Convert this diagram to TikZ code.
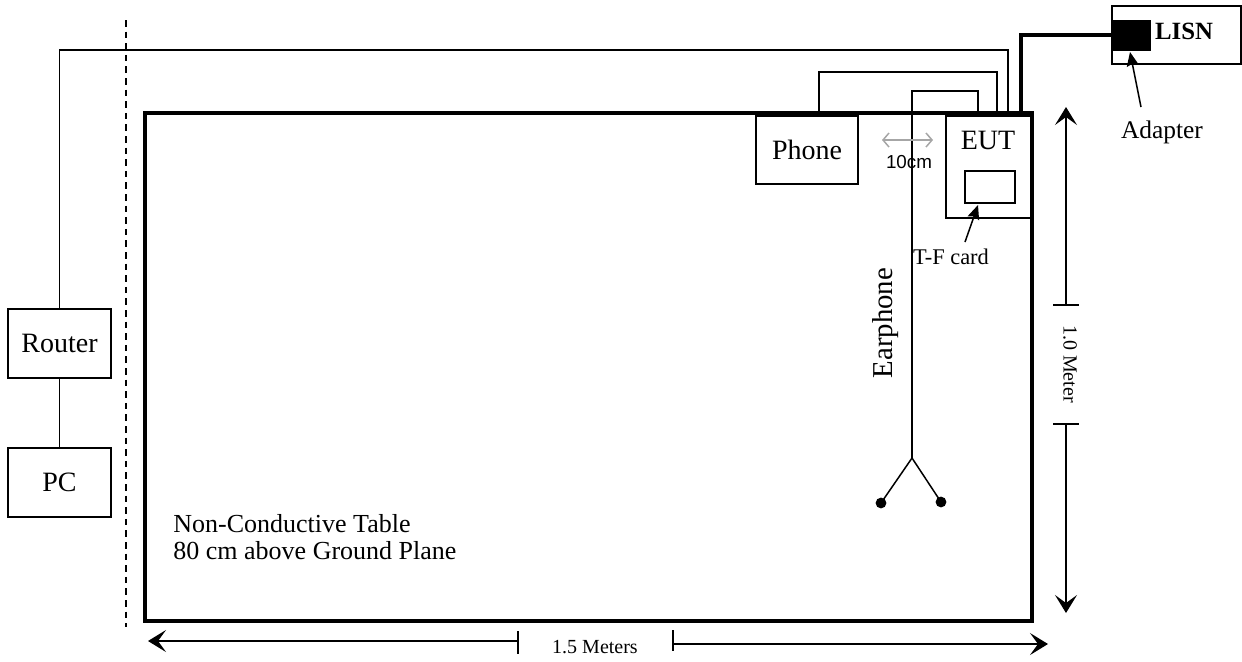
\documentclass[tikz,border=0pt]{standalone}
\usepackage{fontspec}
\setmainfont{Liberation Serif}
\newfontfamily\arialfont{Liberation Sans}
\usetikzlibrary{arrows.meta}
\begin{document}
\begin{tikzpicture}[x=0.5pt,y=-0.5pt,
  wire/.style={line width=0.75pt},
  thickwire/.style={line width=1.6pt},
  boxnode/.style={draw,line width=0.75pt,inner sep=0pt,font=\fontsize{14}{16}\selectfont},
  dimarrow/.style={line width=0.75pt,-{Stealth[length=9pt,width=11pt,inset=4pt]}},
  ptr/.style={line width=0.75pt,-{Stealth[length=7pt,width=6pt,inset=1pt]}},
  txt/.style={inner sep=0pt},
]
\useasboundingbox (0,0) rectangle (1242,661);
% dashed boundary
\coordinate (dtop) at (126,20);
\coordinate (dbot) at (126,627);
\draw[line width=1pt,dash pattern=on 3.3pt off 2.5pt] (dtop) -- (dbot);
% table
\node[draw,line width=1.6pt,inner sep=0pt,minimum width=443.5pt,minimum height=254pt] (table) at (588.5,367) {};
\node[txt,anchor=base west,font=\fontsize{13}{15}\selectfont] (tt1) at (173,532) {Non-Conductive Table};
\node[txt,anchor=base west,font=\fontsize{13}{15}\selectfont] (tt2) at (173,559) {80 cm above Ground Plane};
% boxes
\node[boxnode,minimum width=51.5pt,minimum height=34.5pt] (router) at (59.5,343.5) {Router};
\node[boxnode,minimum width=51.5pt,minimum height=34.5pt] (pc) at (59.5,482.5) {PC};
\node[boxnode,minimum width=51pt,minimum height=34pt] (phone) at (807,150) {Phone};
\node[boxnode,minimum width=42.5pt,minimum height=51pt] (eut) at (988.5,167) {};
\node[txt,font=\fontsize{14}{16}\selectfont] (eutlbl) at (988,140) {EUT};
\node[boxnode,minimum width=25pt,minimum height=16pt] (tf) at (990,187) {};
\node[boxnode,minimum width=64.5pt,minimum height=29pt] (lisn) at (1176.5,35) {};
\node[txt,font=\bfseries\fontsize{12.4}{14}\selectfont] (lisnlbl) at (1184,31) {LISN};
\node[draw,fill=black,inner sep=0pt,minimum width=19pt,minimum height=15pt] (adapter) at (1131,35) {};
% wires
\draw[wire] (router) -- (pc);
\coordinate (w1) at (1008,50);
\draw[wire] (router.north) |- (w1) -- (w1 |- eut.north);
\coordinate (p0) at (819,113);
\coordinate (p1) at (997,72);
\draw[wire] (p0) |- (p1) -- (p1 |- eut.north);
\coordinate (e1) at (978,91);
\coordinate (fork) at (912,458);
\draw[wire] (e1 |- eut.north) -- (e1) -| (fork);
\coordinate (ear1) at (881,503);
\coordinate (ear2) at (941,502);
\draw[wire] (ear1) -- (fork) -- (ear2);
\fill (ear1) circle (2.7pt);
\fill (ear2) circle (2.7pt);
\node[txt,rotate=90,font=\fontsize{14.4}{16}\selectfont] (earlbl) at (886,323) {Earphone};
\coordinate (c1) at (1021,35);
\draw[thickwire] (c1 |- table.north) -- (c1) -- (adapter.west);
% pointers
\coordinate (tft) at (965,242);
\draw[ptr] (tft) -- (978,205);
\node[txt,font=\fontsize{11.2}{13}\selectfont] (tflbl) at (951,257) {T-F card};
\coordinate (adt) at (1141,107);
\draw[ptr] (adt) -- (1130,52);
\node[txt,font=\fontsize{12.7}{14}\selectfont] (adlbl) at (1162,132) {Adapter};
% 10cm
\coordinate (g1) at (882,140);
\coordinate (g2) at (933,140);
\draw[gray!70,line width=0.75pt,{Straight Barb[length=3pt,width=7pt]}-{Straight Barb[length=3pt,width=7pt]}] (g1) -- (g2);
\node[txt,font=\arialfont\fontsize{9.4}{11}\selectfont] (gl) at (909,162) {10cm};
% vertical dimension
\coordinate (vt) at (1066,107);
\coordinate (v1) at (1066,305);
\coordinate (v2) at (1066,424);
\coordinate (vb) at (1066,613);
\draw[dimarrow] (v1) -- (vt);
\draw[dimarrow] (v2) -- (vb);
\draw[wire] ([xshift=-6.5pt]v1) -- ([xshift=6.5pt]v1);
\draw[wire] ([xshift=-6.5pt]v2) -- ([xshift=6.5pt]v2);
\node[txt,rotate=-90,font=\fontsize{10}{12}\selectfont] (vlbl) at (1070,364) {1.0 Meter};
% horizontal dimension
\coordinate (hl) at (148,641);
\coordinate (h1) at (518,641);
\coordinate (h2) at (673,644);
\coordinate (hr) at (1048,644);
\draw[dimarrow] (h1) -- (hl);
\draw[dimarrow] (h2) -- (hr);
\draw[wire] (518,631) -- (518,654);
\draw[wire] (673,630) -- (673,651);
\node[txt,font=\fontsize{10}{12}\selectfont] (hlbl) at (595,647) {1.5 Meters};
\end{tikzpicture}
\end{document}
